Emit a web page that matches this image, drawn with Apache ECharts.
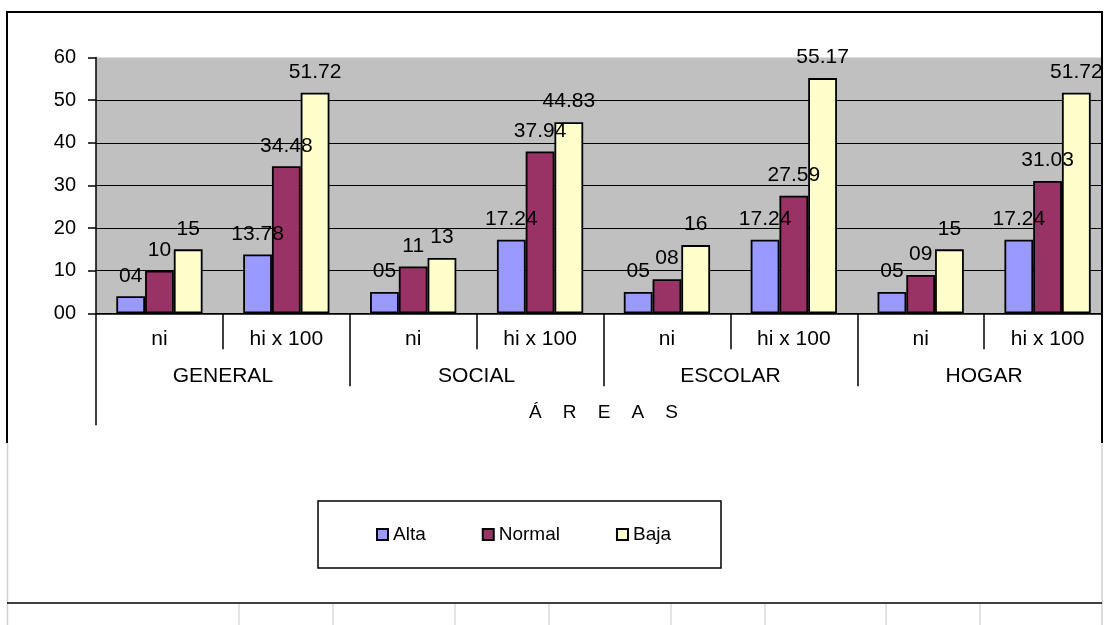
<!DOCTYPE html>
<html><head><meta charset="utf-8">
<script src="https://cdn.jsdelivr.net/npm/echarts@6/dist/echarts.min.js"></script>
<style>html,body{margin:0;padding:0;background:#fff}#c{width:1105px;height:625px}</style>
</head><body><div id="c"></div><script>
// ---- data ----
const categories = ['ni', 'hi x 100', 'ni', 'hi x 100', 'ni', 'hi x 100', 'ni', 'hi x 100'];
const groups = ['GENERAL', 'SOCIAL', 'ESCOLAR', 'HOGAR'];
const axisTitle = ['Á    R    E    A    S'];
const seriesNames = ['Alta', 'Normal', 'Baja'];
const alta   = [4, 13.78, 5, 17.24, 5, 17.24, 5, 17.24];
const normal = [10, 34.48, 11, 37.94, 8, 27.59, 9, 31.03];
const baja   = [15, 51.72, 13, 44.83, 16, 55.17, 15, 51.72];
const yMin = 0, yMax = 60, yStep = 10;

// ---- styles ----
const FF = '"Liberation Sans", Arial, sans-serif';
const colors = ['#9999FF', '#993366', '#FFFFCC'];
const blk = {color: '#000', width: 1.5};
const pad2 = v => String(v).padStart(2, '0');
const labelFmt = p => Number.isInteger(p.value) ? pad2(p.value) : p.value.toFixed(2);

function mk(name, data, color) {
  return {
    name, type: 'bar', data, xAxisIndex: 0, yAxisIndex: 0,
    barGap: '0%', barCategoryGap: '32%',
    itemStyle: {color, borderColor: '#000', borderWidth: 1.8},
    label: {show: true, position: 'top', distance: 10, color: '#000', fontSize: 21, fontFamily: FF, formatter: labelFmt},
    emphasis: {disabled: true}
  };
}

const chart = echarts.init(document.getElementById('c'), null, {renderer: 'canvas'});
chart.setOption({
  animation: false,
  backgroundColor: '#fff',
  textStyle: {fontFamily: FF},
  grid: {left: 96, top: 57.5, right: -6, bottom: 311.7, show: true, backgroundColor: '#C0C0C0', borderWidth: 0, containLabel: false, outerBoundsMode: 'none'},
  legend: {
    show: true, data: seriesNames, left: 318, top: 501, orient: 'horizontal',
    padding: [24, 50, 24, 58], itemGap: 56, itemWidth: 11, itemHeight: 11, icon: 'rect',
    borderColor: '#000', borderWidth: 1.5, backgroundColor: '#fff', selectedMode: false,
    textStyle: {color: '#000', fontSize: 19, fontFamily: FF}
  },
  tooltip: {show: false},
  xAxis: [
    {type: 'category', data: categories, position: 'bottom', gridIndex: 0,
      axisLine: {show: true, onZero: false, lineStyle: blk},
      axisTick: {show: true, length: 36, interval: 0, lineStyle: blk},
      axisLabel: {interval: 0, margin: 15.5, color: '#000', fontSize: 21, fontFamily: FF},
      splitLine: {show: false}},
    {type: 'category', data: groups, position: 'bottom', gridIndex: 0,
      axisLine: {show: false, onZero: false},
      axisTick: {show: true, length: 73, interval: 0, lineStyle: blk},
      axisLabel: {interval: 0, margin: 52.5, color: '#000', fontSize: 21, fontFamily: FF},
      splitLine: {show: false}},
    {type: 'category', data: axisTitle, position: 'bottom', gridIndex: 0,
      axisLine: {show: false, onZero: false},
      axisTick: {show: true, length: 112, interval: 0, lineStyle: blk},
      axisLabel: {interval: 0, margin: 90, color: '#000', fontSize: 19, fontFamily: FF},
      splitLine: {show: false}}
  ],
  yAxis: {
    type: 'value', min: yMin, max: yMax, interval: yStep,
    axisLine: {show: true, lineStyle: blk},
    axisTick: {show: true, length: 8, lineStyle: blk},
    axisLabel: {margin: 20, color: '#000', fontSize: 20, fontFamily: FF, formatter: v => pad2(v)},
    splitLine: {show: true, showMaxLine: false, lineStyle: {color: '#000', width: 1}}
  },
  series: [mk(seriesNames[0], alta, colors[0]), mk(seriesNames[1], normal, colors[1]), mk(seriesNames[2], baja, colors[2])],
  graphic: [
    {type: 'rect', z: 100, shape: {x: 1102.5, y: 0, width: 5, height: 443}, style: {fill: '#fff'}},
    {type: 'polyline', z: 101, shape: {points: [[7, 443], [7, 12], [1102, 12], [1102, 443]]}, style: {stroke: '#000', lineWidth: 2, fill: null}},
    {type: 'line', z: 101, shape: {x1: 7.5, y1: 443, x2: 7.5, y2: 625}, style: {stroke: '#d0d0d0', lineWidth: 1.5}},
    {type: 'line', z: 101, shape: {x1: 1102, y1: 443, x2: 1102, y2: 625}, style: {stroke: '#d0d0d0', lineWidth: 1.5}},
    {type: 'line', z: 101, shape: {x1: 7, y1: 603, x2: 1102, y2: 603}, style: {stroke: '#000', lineWidth: 1.5}},
    ...[239, 333, 455, 549, 671, 765, 886, 980].map(x => ({type: 'line', z: 101, shape: {x1: x, y1: 604, x2: x, y2: 625}, style: {stroke: '#d8d8d8', lineWidth: 1.5}}))
  ]
});
</script></body></html>
